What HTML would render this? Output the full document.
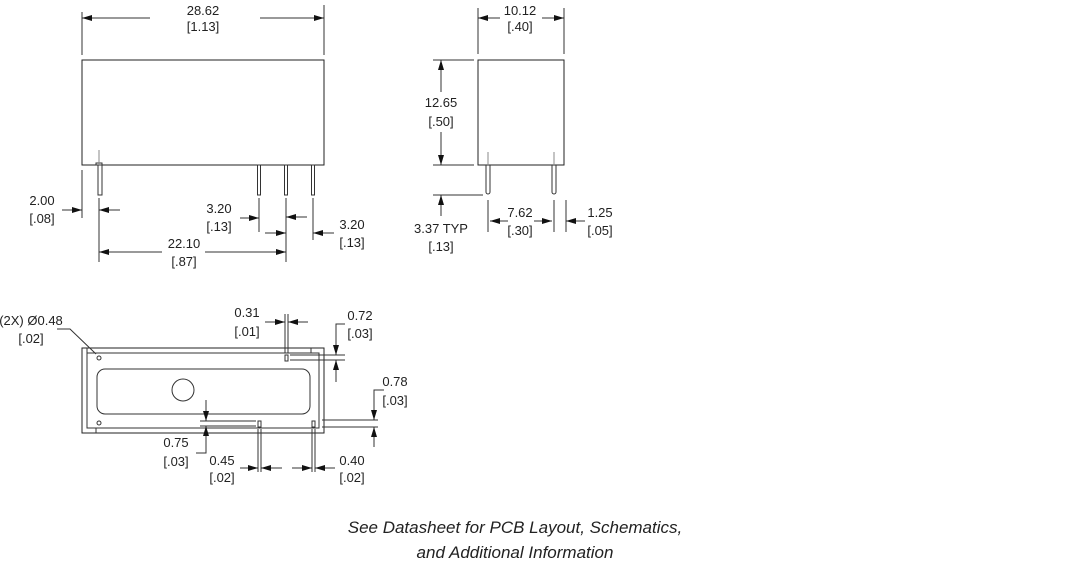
<!DOCTYPE html>
<html><head><style>
html,body{margin:0;padding:0;background:#fff;}
svg{display:block;}
text{font-family:"Liberation Sans",Arial,sans-serif;font-size:13px;fill:#222;text-anchor:middle;}
.f{font-style:italic;font-size:17px;}
</style></head><body>
<svg width="1080" height="564" viewBox="0 0 1080 564" xmlns="http://www.w3.org/2000/svg">
<defs>
<marker id="a" viewBox="0 0 10 6" refX="10" refY="3" markerWidth="10" markerHeight="6" markerUnits="userSpaceOnUse" orient="auto"><path d="M0,0L10,3L0,6z" fill="#111"/></marker>
</defs>
<g stroke="#333" stroke-width="1" fill="none">
<!-- View 1 -->
<line x1="82" y1="12" x2="82" y2="55"/><line x1="324" y1="5" x2="324" y2="55"/>
<line x1="150" y1="18" x2="82" y2="18" marker-end="url(#a)"/><line x1="260" y1="18" x2="324" y2="18" marker-end="url(#a)"/>
<rect x="82" y="60" width="242" height="105" stroke="#222"/>
<path d="M96,165 V163 H102 V165"/>
<rect x="98" y="165" width="4" height="30"/><line x1="99" y1="150" x2="99" y2="165" stroke="#888"/>
<rect x="257.5" y="165" width="3" height="30"/><rect x="284.5" y="165" width="3" height="30"/><rect x="311.5" y="165" width="3" height="30"/>
<line x1="82" y1="170" x2="82" y2="218"/><line x1="99" y1="198" x2="99" y2="262"/>
<line x1="62" y1="210" x2="82" y2="210" marker-end="url(#a)"/><line x1="120" y1="210" x2="99" y2="210" marker-end="url(#a)"/>
<line x1="259" y1="198" x2="259" y2="232"/><line x1="286" y1="198" x2="286" y2="262"/><line x1="313" y1="198" x2="313" y2="240"/>
<line x1="240" y1="218" x2="259" y2="218" marker-end="url(#a)"/><line x1="307" y1="217" x2="286" y2="217" marker-end="url(#a)"/>
<line x1="265" y1="233" x2="286" y2="233" marker-end="url(#a)"/><line x1="334" y1="233" x2="313" y2="233" marker-end="url(#a)"/>
<line x1="162" y1="252" x2="99" y2="252" marker-end="url(#a)"/><line x1="205" y1="252" x2="286" y2="252" marker-end="url(#a)"/>
<!-- View 2 -->
<line x1="478" y1="8" x2="478" y2="54"/><line x1="564" y1="8" x2="564" y2="54"/>
<line x1="500" y1="18" x2="478" y2="18" marker-end="url(#a)"/><line x1="542" y1="18" x2="564" y2="18" marker-end="url(#a)"/>
<rect x="478" y="60" width="86" height="105" stroke="#222"/>
<path d="M486,165 v27 a2,2 0 0 0 4,0 v-27"/><path d="M552,165 v27 a2,2 0 0 0 4,0 v-27"/>
<line x1="488" y1="152" x2="488" y2="165" stroke="#888"/><line x1="554" y1="152" x2="554" y2="165" stroke="#888"/>
<line x1="433" y1="60" x2="474" y2="60"/><line x1="433" y1="165" x2="474" y2="165"/>
<line x1="441" y1="92" x2="441" y2="60" marker-end="url(#a)"/><line x1="441" y1="132" x2="441" y2="165" marker-end="url(#a)"/>
<line x1="433" y1="195" x2="483" y2="195"/><line x1="441" y1="216" x2="441" y2="195" marker-end="url(#a)"/>
<line x1="488" y1="200" x2="488" y2="232"/><line x1="554" y1="200" x2="554" y2="232"/><line x1="566" y1="200" x2="566" y2="232"/>
<line x1="508" y1="221" x2="490" y2="221" marker-end="url(#a)"/><line x1="534" y1="221" x2="552" y2="221" marker-end="url(#a)"/>
<line x1="585" y1="221" x2="566" y2="221" marker-end="url(#a)"/>
<!-- View 3 -->
<rect x="82" y="348" width="242" height="85" stroke="#222"/>
<rect x="87" y="353" width="232" height="75"/>
<line x1="87" y1="348" x2="87" y2="353"/><line x1="96" y1="428" x2="96" y2="433"/><line x1="311" y1="348" x2="311" y2="353"/>
<rect x="97" y="369" width="213" height="45" rx="8"/>
<circle cx="183" cy="390" r="11"/>
<circle cx="99" cy="358" r="2"/><circle cx="99" cy="423" r="2"/>
<rect x="285" y="355" width="3" height="6"/><rect x="258" y="421" width="3" height="6"/><rect x="312" y="421" width="3" height="6"/>
<polyline points="57,329 70,329 96,354"/>
<line x1="285" y1="314" x2="285" y2="353"/><line x1="288" y1="314" x2="288" y2="353"/>
<line x1="265" y1="322" x2="285" y2="322" marker-end="url(#a)"/><line x1="308" y1="322" x2="288" y2="322" marker-end="url(#a)"/>
<line x1="290" y1="355" x2="345" y2="355"/><line x1="290" y1="360" x2="345" y2="360"/>
<polyline points="345,324 336,324 336,355" marker-end="url(#a)"/><line x1="336" y1="382" x2="336" y2="360" marker-end="url(#a)"/>
<line x1="322" y1="420" x2="378" y2="420"/><line x1="322" y1="427" x2="378" y2="427"/>
<polyline points="384,390 374,390 374,420" marker-end="url(#a)"/><line x1="374" y1="447" x2="374" y2="427" marker-end="url(#a)"/>
<line x1="200" y1="421" x2="256" y2="421"/><line x1="200" y1="426" x2="256" y2="426"/>
<line x1="206" y1="400" x2="206" y2="421" marker-end="url(#a)"/><polyline points="196,453 206,453 206,426" marker-end="url(#a)"/>
<line x1="258" y1="429" x2="258" y2="472"/><line x1="261" y1="429" x2="261" y2="472"/>
<line x1="240" y1="468" x2="258" y2="468" marker-end="url(#a)"/><line x1="282" y1="468" x2="261" y2="468" marker-end="url(#a)"/>
<line x1="312" y1="429" x2="312" y2="472"/><line x1="315" y1="429" x2="315" y2="472"/>
<line x1="292" y1="468" x2="312" y2="468" marker-end="url(#a)"/><line x1="335" y1="468" x2="315" y2="468" marker-end="url(#a)"/>
</g>
<text x="203" y="15">28.62</text><text x="203" y="31">[1.13]</text>
<text x="42" y="205">2.00</text><text x="42" y="223">[.08]</text>
<text x="219" y="213">3.20</text><text x="219" y="231">[.13]</text>
<text x="352" y="229">3.20</text><text x="352" y="247">[.13]</text>
<text x="184" y="248">22.10</text><text x="184" y="266">[.87]</text>
<text x="520" y="15">10.12</text><text x="520" y="31">[.40]</text>
<text x="441" y="107">12.65</text><text x="441" y="126">[.50]</text>
<text x="441" y="233">3.37 TYP</text><text x="441" y="251">[.13]</text>
<text x="520" y="217">7.62</text><text x="520" y="235">[.30]</text>
<text x="600" y="217">1.25</text><text x="600" y="235">[.05]</text>
<text x="31" y="325">(2X) Ø0.48</text><text x="31" y="343">[.02]</text>
<text x="247" y="317">0.31</text><text x="247" y="336">[.01]</text>
<text x="360" y="320">0.72</text><text x="360" y="338">[.03]</text>
<text x="395" y="386">0.78</text><text x="395" y="405">[.03]</text>
<text x="176" y="447">0.75</text><text x="176" y="466">[.03]</text>
<text x="222" y="465">0.45</text><text x="222" y="482">[.02]</text>
<text x="352" y="465">0.40</text><text x="352" y="482">[.02]</text>
<text class="f" x="515" y="533">See Datasheet for PCB Layout, Schematics,</text>
<text class="f" x="515" y="558">and Additional Information</text>
</svg>
</body></html>
